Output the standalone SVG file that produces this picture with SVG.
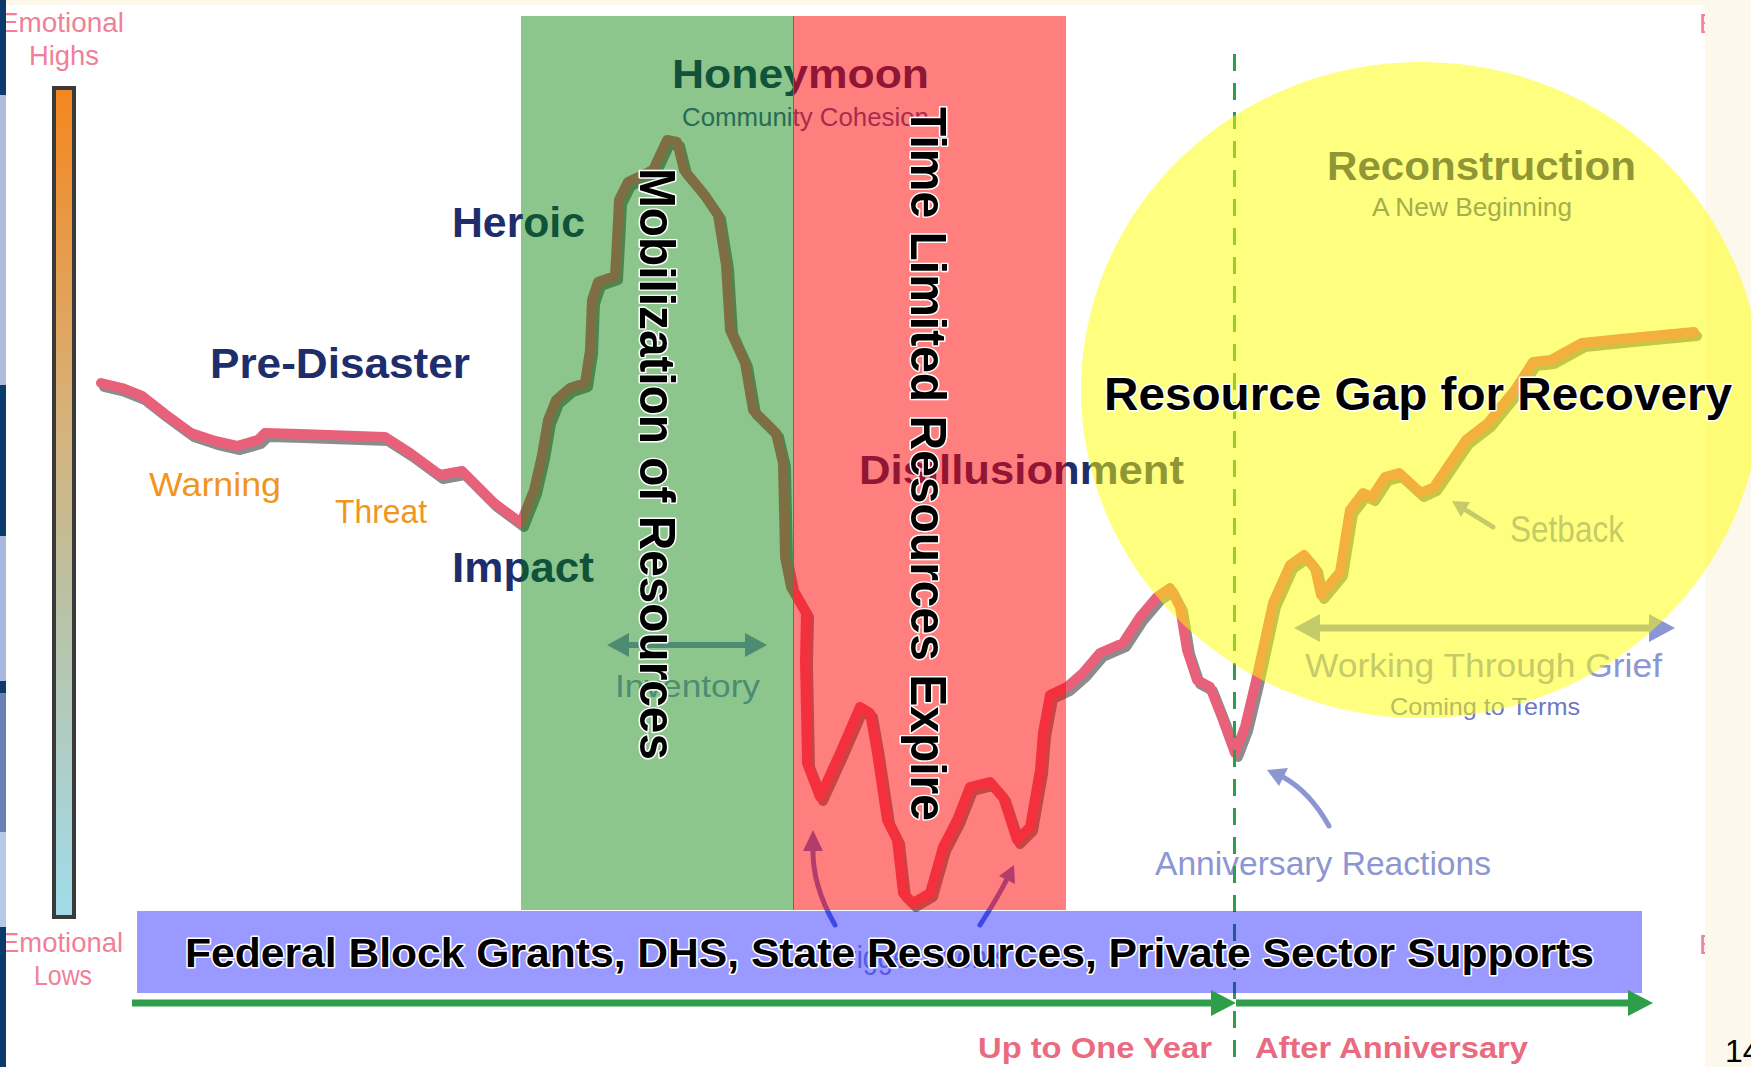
<svg xmlns="http://www.w3.org/2000/svg" width="1751" height="1067" viewBox="0 0 1751 1067">
<style>
.ph{font-family:"Liberation Sans",Arial,sans-serif;font-weight:bold;fill:#1e2d6b}
.sub{font-family:"Liberation Sans",Arial,sans-serif;fill:#4a5a9a}
.lt{font-family:"Liberation Sans",Arial,sans-serif;fill:#8c96d2}
.em{font-family:"Liberation Sans",Arial,sans-serif;fill:#f08098}
.org{font-family:"Liberation Sans",Arial,sans-serif;fill:#f0961e}
.tl{font-family:"Liberation Sans",Arial,sans-serif;font-weight:bold;fill:#ea6b80}
.blk{font-family:"Liberation Sans",Arial,sans-serif;font-weight:bold;fill:#000;stroke:#fff;stroke-width:3;paint-order:stroke;stroke-linejoin:round}
</style>
<defs>
<linearGradient id="bar" x1="0" y1="0" x2="0" y2="1">
<stop offset="0" stop-color="#f5861f"/>
<stop offset="0.4" stop-color="#d6b27a"/>
<stop offset="0.6" stop-color="#bcc0a0"/>
<stop offset="1" stop-color="#a0dbea"/>
</linearGradient>
<path id="curve" fill="none" stroke-linejoin="round" stroke-linecap="round" d="M101,383 L122,388 L142,396 L165,414 L191,433 L215,441 L237,446 L258,440 L265,433 L300,434 L385,437 L410,453 L440,475 L462,471 L494,503 L521,523 L534,490 L542,455 L548,420 L556,400 L570,388 L585,383 L590,350 L592,300 L598,282 L615,276 L617,240 L619,200 L628,182 L653,170 L660,155 L667,140 L677,142 L684,170 L703,193 L718,215 L726,265 L730,330 L745,363 L753,410 L776,433 L783,463 L785,557 L791,587 L806,613 L805,660 L807,763 L820,797 L840,753 L860,707 L870,713 L877,753 L887,820 L897,840 L903,893 L913,903 L930,893 L943,847 L957,820 L970,787 L990,782 L1003,797 L1017,840 L1030,827 L1040,770 L1043,733 L1050,695 L1067,687 L1083,673 L1100,653 L1123,643 L1140,617 L1157,597 L1170,588 L1180,607 L1187,650 L1197,680 L1210,687 L1223,720 L1235,753 L1245,727 L1256,681 L1273,603 L1290,565 L1304,555 L1315,568 L1321,595 L1340,572 L1350,510 L1363,493 L1372,497 L1385,477 L1399,473 L1421,493 L1434,487 L1466,440 L1488,423 L1501,407 L1515,390 L1533,362 L1551,360 L1582,343 L1631,338 L1694,332"/>
</defs>

<g id="background">
<rect x="0" y="0" width="1751" height="1067" fill="#ffffff"/>
<rect x="0" y="0" width="1751" height="5" fill="#fcf8ec"/>
</g>

<g id="axis-bar">
<text class="em" x="0" y="32" font-size="28" textLength="124" lengthAdjust="spacingAndGlyphs">Emotional</text>
<text class="em" x="29" y="65" font-size="28" textLength="70" lengthAdjust="spacingAndGlyphs">Highs</text>
<rect x="54" y="88" width="20" height="829" fill="url(#bar)" stroke="#3a3a3a" stroke-width="4"/>
<text class="em" x="1" y="952" font-size="28" textLength="122" lengthAdjust="spacingAndGlyphs">Emotional</text>
<text class="em" x="34" y="985" font-size="28" textLength="58" lengthAdjust="spacingAndGlyphs">Lows</text>
</g>

<g id="phase-labels">
<text class="ph" x="452" y="237" font-size="42" textLength="133" lengthAdjust="spacingAndGlyphs">Heroic</text>
<text class="ph" x="210" y="378" font-size="42" textLength="260" lengthAdjust="spacingAndGlyphs">Pre-Disaster</text>
<text class="ph" x="452" y="582" font-size="42" textLength="142" lengthAdjust="spacingAndGlyphs">Impact</text>
<text class="ph" x="672" y="88" font-size="40" textLength="257" lengthAdjust="spacingAndGlyphs">Honeymoon</text>
<text class="sub" x="682" y="126" font-size="25" textLength="247" lengthAdjust="spacingAndGlyphs">Community Cohesion</text>
<text class="ph" x="859" y="484" font-size="40" textLength="325" lengthAdjust="spacingAndGlyphs">Disillusionment</text>
<text class="ph" x="1327" y="180" font-size="40" textLength="309" lengthAdjust="spacingAndGlyphs">Reconstruction</text>
<text class="sub" x="1372" y="216" font-size="25" textLength="200" lengthAdjust="spacingAndGlyphs">A New Beginning</text>
<text class="org" x="149" y="496" font-size="34" textLength="132" lengthAdjust="spacingAndGlyphs">Warning</text>
<text class="org" x="335" y="523" font-size="34" textLength="92" lengthAdjust="spacingAndGlyphs">Threat</text>
<text class="lt" x="615" y="697" font-size="32" textLength="145" lengthAdjust="spacingAndGlyphs">Inventory</text>
<text class="lt" x="1510" y="542" font-size="36" textLength="114" lengthAdjust="spacingAndGlyphs">Setback</text>
<text class="lt" x="1305" y="677" font-size="34" textLength="357" lengthAdjust="spacingAndGlyphs">Working Through Grief</text>
<text class="sub" x="1390" y="715" font-size="24" textLength="190" lengthAdjust="spacingAndGlyphs" style="fill:#6a78c4">Coming to Terms</text>
<text class="lt" x="1155" y="875" font-size="34" textLength="336" lengthAdjust="spacingAndGlyphs">Anniversary Reactions</text>
</g>

<g id="reaction-curve">
<use href="#curve" transform="translate(3,4)" stroke="#8c8c8c" stroke-width="10"/>
<use href="#curve" stroke="#e8607a" stroke-width="10"/>
</g>

<g id="connectors">
<line x1="627" y1="645" x2="747" y2="645" stroke="#8c96d2" stroke-width="6"/>
<polygon points="607,645 629,633 629,657" fill="#8c96d2"/>
<polygon points="767,645 745,633 745,657" fill="#8c96d2"/>
<line x1="1318" y1="628" x2="1651" y2="628" stroke="#8c96d2" stroke-width="7"/>
<polygon points="1294,628 1320,614 1320,642" fill="#8c96d2"/>
<polygon points="1675,628 1649,614 1649,642" fill="#8c96d2"/>
<line x1="1493" y1="527" x2="1464" y2="509" stroke="#8c96d2" stroke-width="5" stroke-linecap="round"/>
<polygon points="1452,501 1470,502 1461,517" fill="#8c96d2"/>
<path d="M1329,826 Q1310,792 1283,777" fill="none" stroke="#8c96d2" stroke-width="5" stroke-linecap="round"/>
<polygon points="1267,770 1288,768 1279,786" fill="#8c96d2"/>
<path d="M835,925 Q812,885 813,848" fill="none" stroke="#6878d8" stroke-width="5" stroke-linecap="round"/>
<polygon points="813,830 803,851 823,851" fill="#6878d8"/>
<path d="M980,925 Q998,897 1007,879" fill="none" stroke="#6878d8" stroke-width="5" stroke-linecap="round"/>
<polygon points="1014,865 1015,884 999,876" fill="#6878d8"/>
<line x1="1234.5" y1="54" x2="1234.5" y2="1062" stroke="#2e9e4a" stroke-width="3" stroke-dasharray="17 12"/>
</g>

<g id="overlays">
<rect x="521" y="16" width="272" height="894" fill="#008000" opacity="0.45"/>
<rect x="793" y="16" width="273" height="894" fill="#ff0000" opacity="0.5"/>
<line x1="793.5" y1="16" x2="793.5" y2="910" stroke="#d04040" stroke-width="1"/>
<text class="em" x="1699" y="33" font-size="28">E</text>
<text class="em" x="1699" y="954" font-size="28">E</text>
<rect x="1705" y="0" width="46" height="1067" fill="#fcf8ec"/>
<ellipse cx="1421" cy="390" rx="340" ry="328" fill="#ffff00" opacity="0.5"/>
</g>

<g id="left-strip">
<rect x="0" y="0" width="6" height="1067" fill="#0b3a6c"/>
<rect x="0" y="95" width="6" height="290" fill="#aebbdc"/>
<rect x="0" y="536" width="6" height="145" fill="#a8b8e0"/>
<rect x="0" y="693" width="6" height="139" fill="#6a80b8"/>
<rect x="0" y="832" width="6" height="95" fill="#b8c8e8"/>
</g>

<g id="banner">
<text class="lt" x="832" y="968" font-size="32" textLength="176" lengthAdjust="spacingAndGlyphs">Trigger Events</text>
<rect x="137" y="911" width="1505" height="82" fill="#0000ff" opacity="0.4"/>
<text class="blk" x="185" y="967" font-size="40" textLength="1409" lengthAdjust="spacingAndGlyphs">Federal Block Grants, DHS, State Resources, Private Sector Supports</text>
</g>

<g id="timeline">
<line x1="132" y1="1003" x2="1214" y2="1003" stroke="#2e9e4a" stroke-width="7"/>
<polygon points="1236,1003 1211,990 1211,1016" fill="#2e9e4a"/>
<line x1="1236" y1="1003" x2="1630" y2="1003" stroke="#2e9e4a" stroke-width="7"/>
<polygon points="1653,1003 1628,990 1628,1016" fill="#2e9e4a"/>
<text class="tl" x="978" y="1058" font-size="30" textLength="234" lengthAdjust="spacingAndGlyphs">Up to One Year</text>
<text class="tl" x="1255" y="1058" font-size="30" textLength="273" lengthAdjust="spacingAndGlyphs">After Anniversary</text>
</g>

<g id="resource-labels">
<text class="blk" transform="translate(640,168) rotate(90)" font-size="50" textLength="592" lengthAdjust="spacingAndGlyphs">Mobilization of Resources</text>
<text class="blk" transform="translate(911,107) rotate(90)" font-size="50" textLength="714" lengthAdjust="spacingAndGlyphs">Time Limited Resources Expire</text>
<text class="blk" x="1104" y="410" font-size="46" textLength="628" lengthAdjust="spacingAndGlyphs">Resource Gap for Recovery</text>
</g>

<text x="1725" y="1062" font-family="Liberation Sans, Arial, sans-serif" font-size="32" fill="#000">14</text>
</svg>
